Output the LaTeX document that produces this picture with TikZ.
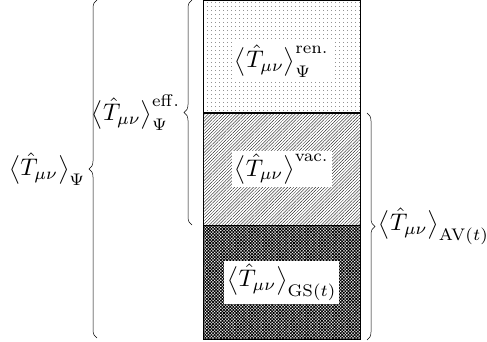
\documentclass[tikz,border=0pt]{standalone}
\usetikzlibrary{patterns.meta,decorations.pathreplacing}

\newcommand{\Tmn}{\bigl\langle\hat{T}_{\mu\nu}\bigr\rangle}

\tikzset{
  part/.style={draw, line width=0.8pt, minimum width=157pt, inner sep=0pt},
  big/.style={scale=2.4, inner sep=0.5pt},
  tag/.style={big, fill=white, inner sep=1.2pt},
  curly/.style={decorate, decoration={brace, amplitude=8pt}, line width=0.5pt},
}

\begin{document}
\begin{tikzpicture}[x=1pt, y=1pt]
  \useasboundingbox (0,0) rectangle (487,341);
  % the three layers of the column
  \node[part, minimum height=112pt, anchor=north west,
        pattern={Dots[distance=4pt, radius=0.4pt]}] (ren) at (203,341) {};
  \node[part, minimum height=112pt, anchor=north west,
        pattern={Lines[angle=45, distance=2.2pt, line width=0.3pt]}] (vac) at (ren.south west) {};
  \node[part, minimum height=114pt, anchor=north west,
        pattern={Hatch[angle=45, distance=2.2pt, line width=0.8pt]}] (gs) at (vac.south west) {};
  % labels inside
  \node[tag] (renlab) at ([yshift=-5pt]ren.center) {$\Tmn^{\mathrm{ren.}}_{\Psi}$};
  \node[tag] (vaclab) at (vac.center) {$\Tmn^{\mathrm{vac.}}$};
  \node[tag] (gslab) at (gs.center) {$\Tmn_{\mathrm{GS}(t)}$};
  % braces
  \coordinate (b1) at (97,3);
  \coordinate (t1) at (97,341);
  \coordinate (b2) at (192,116);
  \coordinate (t2) at (192,341);
  \coordinate (t3) at (367,228);
  \coordinate (b3) at (367,1);
  \draw[curly] (b1) -- (t1) coordinate[midway, xshift=-10pt] (m1);
  \draw[curly] (b2) -- (t2) coordinate[midway, xshift=-10pt] (m2);
  \draw[curly] (t3) -- (b3) coordinate[midway, xshift=10pt] (m3);
  \node[big, anchor=east] (all) at (m1) {$\Tmn_{\Psi}$};
  \node[big, anchor=east] (eff) at (m2) {$\Tmn^{\mathrm{eff.}}_{\Psi}$};
  \node[big, anchor=west] (av) at (m3) {$\Tmn_{\mathrm{AV}(t)}$};
\end{tikzpicture}
\end{document}
